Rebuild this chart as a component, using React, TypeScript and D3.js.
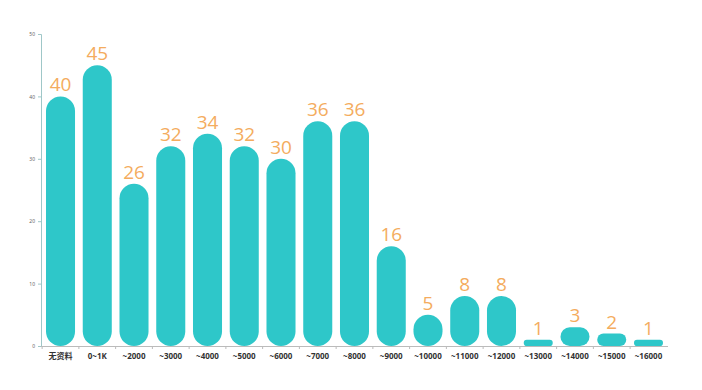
import { useEffect, useRef } from "react";
import * as d3 from "d3";

const categories = [
  "无资料", "0~1K", "~2000", "~3000", "~4000", "~5000", "~6000", "~7000", "~8000",
  "~9000", "~10000", "~11000", "~12000", "~13000", "~14000", "~15000", "~16000",
];
const counts = [40, 45, 26, 32, 34, 32, 30, 36, 36, 16, 5, 8, 8, 1, 3, 2, 1];
const yTicks = [0, 10, 20, 30, 40, 50];

export default function App() {
  const ref = useRef<SVGSVGElement>(null);

  useEffect(() => {
    if (!ref.current) return;
    const svg = d3.select(ref.current);
    svg.selectAll("*").remove();

    const margin = { top: 34, right: 34, bottom: 44, left: 41 };
    const width = 702 - margin.left - margin.right;
    const height = 390 - margin.top - margin.bottom;

    const g = svg.append("g").attr("transform", `translate(${margin.left},${margin.top})`);

    const x = d3
      .scaleBand<string>()
      .domain(categories)
      .range([0, width])
      .paddingInner(0.21)
      .paddingOuter(0.136);
    const y = d3.scaleLinear().domain([0, 50]).range([height, 0]);

    // eje Y
    const yAxis = g.append("g").call(d3.axisLeft(y).tickValues(yTicks).tickSize(3));
    yAxis.select(".domain").attr("stroke", "#9fc7c8");
    yAxis.selectAll(".tick line").attr("stroke", "#9fc7c8");
    yAxis
      .selectAll("text")
      .attr("fill", "#666")
      .style("font-size", "5px")
      .style("font-family", "'Noto Sans', sans-serif");

    // eje X
    const xAxis = g
      .append("g")
      .attr("transform", `translate(0,${height})`)
      .call(d3.axisBottom(x).tickSize(3).tickSizeOuter(0));
    xAxis.select(".domain").attr("stroke", "#bbbbbb").attr("d", `M0,0.5H${width}`);
    xAxis.selectAll(".tick line").attr("stroke", "#bbbbbb").attr("transform", `translate(${-x.step() / 2},0)`);
    xAxis
      .selectAll("text")
      .attr("fill", "#333")
      .attr("dy", "0.9em")
      .style("font-size", "8px")
      .style("font-weight", "bold")
      .style("font-family", "'Noto Sans', 'Noto Sans CJK SC', sans-serif");

    const data = categories.map((c, i) => ({ name: c, value: counts[i] }));

    // barras redondeadas
    g.selectAll(".bar")
      .data(data)
      .enter()
      .append("rect")
      .attr("class", "bar")
      .attr("x", (d) => x(d.name) || 0)
      .attr("y", (d) => y(d.value))
      .attr("width", x.bandwidth())
      .attr("height", (d) => height - y(d.value))
      .attr("rx", (d) => Math.min(x.bandwidth() / 2, (height - y(d.value)) / 2))
      .attr("fill", "#2ec7c9");

    // etiquetas
    g.selectAll(".label")
      .data(data)
      .enter()
      .append("text")
      .attr("class", "label")
      .attr("x", (d) => (x(d.name) || 0) + x.bandwidth() / 2)
      .attr("y", (d) => y(d.value) - 5)
      .attr("text-anchor", "middle")
      .attr("fill", "#f4ac5e")
      .style("font-size", "19px")
      .style("font-family", "'Open Sans', sans-serif")
      .text((d) => d.value);
  }, []);

  return <svg ref={ref} width={702} height={390} style={{ position: "absolute", left: 0, top: 0 }} />;
}
